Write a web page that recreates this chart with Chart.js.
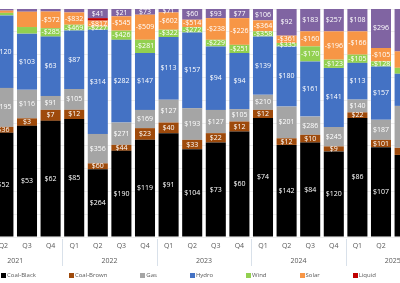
<!DOCTYPE html>
<html>
<head>
<meta charset="utf-8">
<script src="https://cdn.jsdelivr.net/npm/chart.js@4.4.1/dist/chart.umd.min.js"></script>
<style>
  html, body { margin: 0; padding: 0; background: #fff; }
  #wrap { position: relative; width: 400px; height: 283px; overflow: hidden; }
  #chart { position: absolute; left: -32px; top: 0; }
  #legend { position: absolute; left: 1px; top: 271px; white-space: nowrap; font: 6px "Open Sans", sans-serif; color: #595959; }
  #legend span.item { display: inline-block; margin-right: 33px; }
  #legend span.box { display: inline-block; width: 5px; height: 5px; margin-right: 1px; vertical-align: -0.5px; }
</style>
</head>
<body>
<div id="wrap">
  <canvas id="chart" width="472" height="283"></canvas>
  <div id="legend"></div>
</div>
<script>
// quarters Q1 2021 .. Q4 2025 (first and last are outside the picture)
const quarters = ['Q1','Q2','Q3','Q4','Q1','Q2','Q3','Q4','Q1','Q2','Q3','Q4','Q1','Q2','Q3','Q4','Q1','Q2','Q3','Q4'];
const years = ['2021','2022','2023','2024','2025'];

// share of generation (% of bar height)
const coalBlackShare = [null,45.7,48.7,50.9,51.7,29.7,37.8,42.6,45.5,38.5,41.4,46.2,52.1,40.4,41.4,37.5,52.1,39.4,36.0,null];
const coalBrownShare = [null,2.6,3.3,4.8,4.1,2.6,2.6,5.1,4.7,4.1,4.1,4.4,3.6,2.9,3.4,2.2,2.5,3.2,3.1,null];
const gasShare       = [null,17.1,12.5,6.1,9.1,12.9,9.8,8.0,10.0,13.9,10.2,5.4,6.6,13.9,8.0,8.5,5.6,8.8,18.4,null];
const hydroShare     = [null,31.8,24.6,26.0,25.7,45.7,36.3,24.9,27.5,33.2,27.8,24.6,25.6,26.4,24.2,25.9,16.1,23.4,14.1,null];
const windShare      = [null,1.1,2.9,3.7,2.5,1.4,4.0,5.8,3.2,2.4,2.9,3.6,2.2,1.5,6.6,3.6,3.6,2.2,2.6,null];
const solarShare     = [null,1.0,6.7,7.3,5.4,2.6,6.3,11.0,7.6,3.2,9.5,11.7,4.8,3.2,6.6,12.4,10.2,5.9,7.2,null];
const liquidShare    = [null,0,0,0,0,1.1,0,0,0,0,0,0,0,0,0,0,0,0,0,null];
const batteryShare   = [null,0.7,1.2,1.1,1.5,4.0,3.2,2.5,1.5,4.7,4.0,4.0,5.0,11.7,9.8,9.8,9.8,17.1,18.6,null];

// dollar values shown on the segments
const coalBlackVal = [null,52,53,62,85,264,190,119,91,104,73,60,74,142,84,120,86,107,null,null];
const coalBrownVal = [null,36,3,7,12,60,44,23,40,33,22,12,12,12,10,9,22,101,null,null];
const gasVal       = [null,195,116,91,105,356,271,169,127,193,127,105,210,201,286,245,140,187,null,null];
const hydroVal     = [null,120,103,63,87,314,282,147,113,157,94,94,139,180,161,141,113,157,null,null];
const windVal      = [null,null,null,-285,-469,-227,-426,-281,-322,-272,-229,-251,-358,-335,-170,-123,-105,-128,null,null];
const solarVal     = [null,null,null,-572,-832,-817,-545,-509,-602,-514,-238,-226,-364,-361,-160,-196,-166,-105,null,null];
const liquidVal    = [null,null,null,null,null,null,null,null,null,null,null,null,null,null,null,null,null,null,null,null];
const batteryVal   = [null,null,null,null,null,41,21,73,71,60,93,77,106,92,183,257,108,296,null,null];

const series = [
  { label: 'Coal-Black', color: '#000000', share: coalBlackShare, vals: coalBlackVal },
  { label: 'Coal-Brown', color: '#9E4A0B', share: coalBrownShare, vals: coalBrownVal },
  { label: 'Gas',        color: '#A5A5A5', share: gasShare,       vals: gasVal },
  { label: 'Hydro',      color: '#4472C4', share: hydroShare,     vals: hydroVal },
  { label: 'Wind',       color: '#92D050', share: windShare,      vals: windVal },
  { label: 'Solar',      color: '#F79646', share: solarShare,     vals: solarVal },
  { label: 'Liquid',     color: '#C00000', share: liquidShare,    vals: liquidVal },
  { label: 'Battery',    color: '#8064A2', share: batteryShare,   vals: batteryVal }
];

// 100% stacking
const totals = quarters.map((q, i) => series.reduce((s, d) => s + (d.share[i] || 0), 0));

const datasets = series.map(s => ({
  label: s.label,
  data: s.share.map((v, i) => v == null ? null : v / totals[i] * 100),
  vals: s.vals,
  backgroundColor: s.color,
  borderWidth: 0,
  categoryPercentage: 1,
  barPercentage: 0.85
}));

const fontFam = '"Open Sans", sans-serif';

const valueLabels = {
  id: 'valueLabels',
  afterDatasetsDraw(chart) {
    const ctx = chart.ctx;
    ctx.save();
    ctx.font = '7px ' + fontFam;
    ctx.fillStyle = '#ffffff';
    ctx.textAlign = 'center';
    ctx.textBaseline = 'middle';
    chart.data.datasets.forEach((ds, di) => {
      chart.getDatasetMeta(di).data.forEach((bar, i) => {
        const v = ds.vals[i];
        if (v == null || ds.data[i] == null) return;
        const txt = (v < 0 ? '-$' : '$') + Math.abs(v);
        ctx.fillText(txt, bar.x, (bar.y + bar.base) / 2);
      });
    });
    ctx.restore();
  }
};

const yearAxis = {
  id: 'yearAxis',
  afterDraw(chart) {
    const ctx = chart.ctx;
    const x = chart.scales.x;
    const step = x.getPixelForValue(1) - x.getPixelForValue(0);
    ctx.save();
    ctx.font = '7px ' + fontFam;
    ctx.fillStyle = '#595959';
    ctx.textAlign = 'center';
    ctx.textBaseline = 'middle';
    ctx.strokeStyle = '#D9E1EA';
    ctx.lineWidth = 1;
    years.forEach((y, g) => {
      const left = x.getPixelForValue(g * 4) - step / 2;
      const right = x.getPixelForValue(g * 4 + 3) + step / 2;
      ctx.fillText(y, (left + right) / 2, 261);
      ctx.beginPath();
      ctx.moveTo(Math.round(left) + 0.5, 239);
      ctx.lineTo(Math.round(left) + 0.5, 266);
      ctx.stroke();
    });
    ctx.restore();
  }
};

new Chart(document.getElementById('chart'), {
  type: 'bar',
  data: { labels: quarters, datasets: datasets },
  options: {
    responsive: false,
    animation: false,
    devicePixelRatio: 1,
    layout: { padding: { top: 9, left: 0, right: 0, bottom: 0 } },
    plugins: { legend: { display: false }, tooltip: { enabled: false } },
    scales: {
      x: {
        stacked: true,
        grid: { display: false, drawTicks: false },
        border: { display: false },
        ticks: { font: { size: 7, family: fontFam }, color: '#595959', padding: 5, maxRotation: 0, autoSkip: false },
        afterFit: s => { s.height = 46; }
      },
      y: {
        stacked: true, min: 0, max: 100,
        grid: { color: '#EEEEEE', drawTicks: false },
        border: { display: false },
        ticks: { display: false, stepSize: 10 },
        afterFit: s => { s.width = 0; }
      }
    }
  },
  plugins: [valueLabels, yearAxis]
});

// legend
const legend = document.getElementById('legend');
series.forEach(s => {
  const item = document.createElement('span');
  item.className = 'item';
  item.innerHTML = `<span class="box" style="background:${s.color}"></span>${s.label}`;
  legend.appendChild(item);
});
</script>
</body>
</html>
